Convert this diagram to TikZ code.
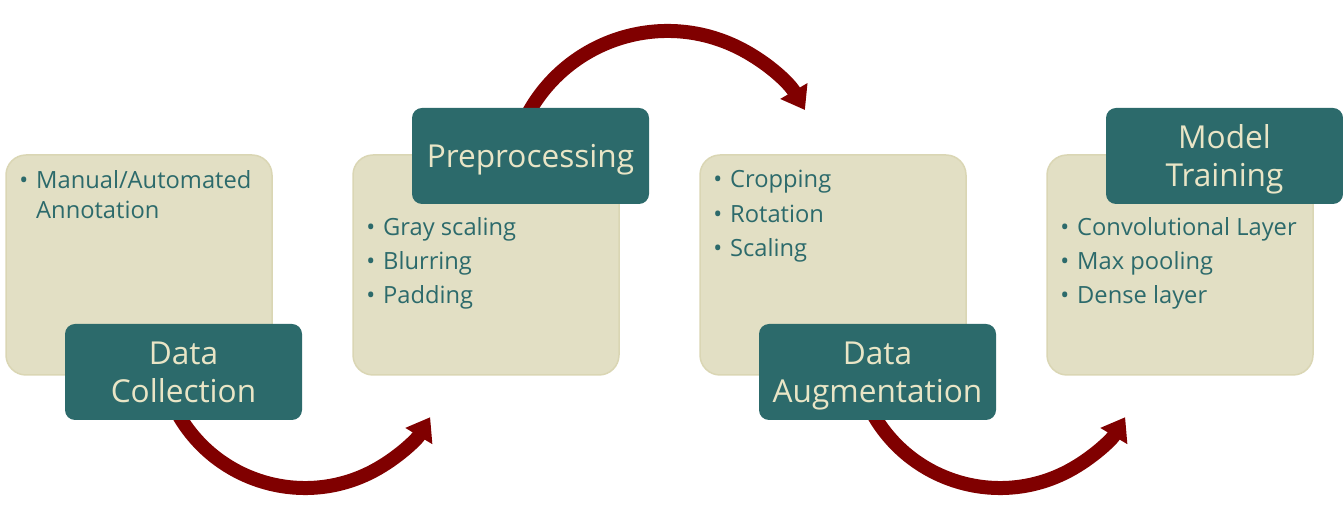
\documentclass[tikz,border=0pt]{standalone}
\usepackage{fontspec}
\setmainfont{Open Sans}
\usetikzlibrary{arrows.meta,calc}
\definecolor{stageteal}{HTML}{2C6A6B}
\definecolor{beige}{HTML}{E2DFC4}
\definecolor{beigeline}{HTML}{DAD6B4}
\definecolor{titletext}{HTML}{E9E5C6}
\definecolor{arrowred}{HTML}{800000}
\tikzset{
  card/.style={draw=beigeline, line width=1.5pt, fill=beige, rounded corners=20pt,
    minimum width=266pt, minimum height=220pt, inner sep=0pt},
  stage/.style={fill=stageteal, rounded corners=10pt, minimum width=237pt, minimum height=96pt,
    inner sep=0pt, align=center, text=titletext, text depth=0pt,
    font=\fontsize{31.6}{38}\selectfont},
  item/.style={anchor=base west, inner sep=0pt, text=stageteal,
    font=\fontsize{23.7}{30}\selectfont},
  flow/.style={draw=arrowred, line width=14pt,
    -{Triangle[length=22pt,width=30pt]}},
}
\newcommand{\bul}{\llap{\textbullet\hspace{8pt}}}
\begin{document}
\begin{tikzpicture}[x=1pt,y=1pt]
\useasboundingbox (0,0) rectangle (1343,529);
% cards
\node[card] (c1) at (139,264) {};
\node[card] (c2) at (486,264) {};
\node[card] (c3) at (833,264) {};
\node[card] (c4) at (1180,264) {};
% items
\node[item] (i1a) at (36,340) {\bul Manual/Automated};
\node[item] (i1b) at (36,310) {Annotation};
\node[item] (i2a) at (383,293) {\bul Gray scaling};
\node[item] (i2b) at (383,259) {\bul Blurring};
\node[item] (i2c) at (383,225) {\bul Padding};
\node[item] (i3a) at (730,341) {\bul Cropping};
\node[item] (i3b) at (730,306) {\bul Rotation};
\node[item] (i3c) at (730,272) {\bul Scaling};
\node[item] (i4a) at (1077,293) {\bul Convolutional Layer};
\node[item] (i4b) at (1077,259) {\bul Max pooling};
\node[item] (i4c) at (1077,225) {\bul Dense layer};
% arrows
\coordinate (s1) at ($(305,187)+(208:146)$);
\coordinate (s2) at ($(667.5,339)+(155:159)$);
\coordinate (s3) at ($(1000,187)+(208:146)$);
\draw[flow] (s1) arc[start angle=208, end angle=329, radius=146];
\draw[flow] (s2) arc[start angle=155, end angle=30.2, radius=159];
\draw[flow] (s3) arc[start angle=208, end angle=329, radius=146];
% stages
\node[stage] (dc) at (183.5,157) {Data\\Collection};
\node[stage] (pp) at (530.5,373) {Preprocessing};
\node[stage] (da) at (877.5,157) {Data\\Augmentation};
\node[stage] (mt) at (1224.5,373) {Model\\Training};
\end{tikzpicture}
\end{document}
